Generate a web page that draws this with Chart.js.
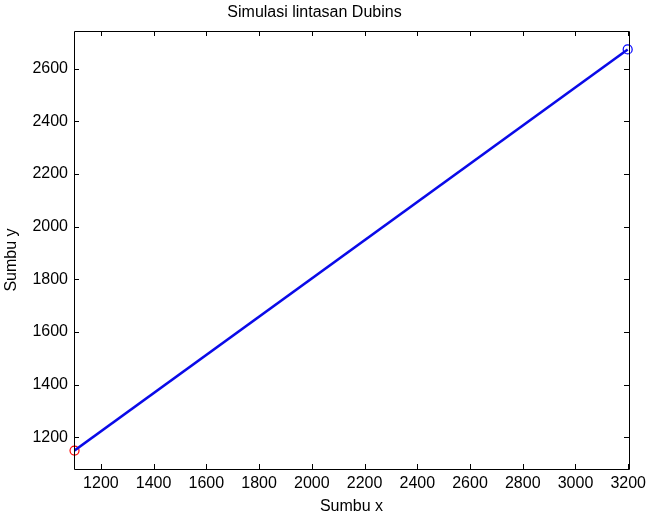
<!DOCTYPE html>
<html>
<head>
<meta charset="utf-8">
<script src="https://cdn.jsdelivr.net/npm/chart.js@4/dist/chart.umd.min.js"></script>
<style>
  html, body { margin: 0; padding: 0; background: #ffffff; }
  #wrap { width: 646px; height: 516px; }
</style>
</head>
<body>
<div id="wrap"><canvas id="c" width="646" height="516"></canvas></div>
<script>
// Path of the Dubins simulation: start and end of the straight segment
const pathX = [1100, 3198];
const pathY = [1150, 2673];
// Start point (red) and goal point (blue)
const startPoint = [1100, 1150];
const goalPoint = [3198, 2673];

// Axis ranges and tick values
const xRange = [1098, 3203];
const yRange = [1080, 2743];
const xTicks = [1200, 1400, 1600, 1800, 2000, 2200, 2400, 2600, 2800, 3000, 3200];
const yTicks = [1200, 1400, 1600, 1800, 2000, 2200, 2400, 2600];

const FONT = "'Liberation Sans', Arial, sans-serif";
const FSIZE = 16;

const pathData = pathX.map((x, i) => ({ x: x, y: pathY[i] }));

// Box around the axes with inward tick marks on all four sides,
// plus the vertical axis caption
const boxTicks = {
  id: 'boxTicks',
  afterDatasetsDraw(chart) {
    const { ctx, chartArea: a, scales } = chart;
    const len = 5;
    ctx.save();
    ctx.strokeStyle = '#000000';
    ctx.lineWidth = 1;
    ctx.beginPath();
    ctx.rect(Math.round(a.left) + 0.5, Math.round(a.top) + 0.5,
             Math.round(a.right - a.left), Math.round(a.bottom - a.top));
    xTicks.forEach(v => {
      const px = Math.round(scales.x.getPixelForValue(v)) + 0.5;
      ctx.moveTo(px, a.bottom); ctx.lineTo(px, a.bottom - len);
      ctx.moveTo(px, a.top); ctx.lineTo(px, a.top + len);
    });
    yTicks.forEach(v => {
      const py = Math.round(scales.y.getPixelForValue(v)) + 0.5;
      ctx.moveTo(a.left, py); ctx.lineTo(a.left + len, py);
      ctx.moveTo(a.right, py); ctx.lineTo(a.right - len, py);
    });
    ctx.stroke();

    ctx.fillStyle = '#000000';
    ctx.font = FSIZE + 'px ' + FONT;
    ctx.textAlign = 'center';
    ctx.textBaseline = 'middle';
    ctx.translate(12, (a.top + a.bottom) / 2 + 10);
    ctx.rotate(-Math.PI / 2);
    ctx.fillText('Sumbu y', 0, 0);
    ctx.restore();
  }
};

new Chart(document.getElementById('c'), {
  type: 'line',
  data: {
    datasets: [
      {
        data: pathData,
        borderColor: '#0a0ae8',
        borderWidth: 2.6,
        pointRadius: 0,
        fill: false,
        tension: 0
      },
      {
        data: [{ x: startPoint[0], y: startPoint[1] }],
        showLine: false,
        clip: false,
        pointStyle: 'circle',
        pointRadius: 4.5,
        pointBorderWidth: 1.2,
        pointBorderColor: '#ff0000',
        pointBackgroundColor: 'rgba(0,0,0,0)'
      },
      {
        data: [{ x: goalPoint[0], y: goalPoint[1] }],
        showLine: false,
        clip: false,
        pointStyle: 'circle',
        pointRadius: 4.5,
        pointBorderWidth: 1.2,
        pointBorderColor: '#0000ff',
        pointBackgroundColor: 'rgba(0,0,0,0)'
      }
    ]
  },
  options: {
    responsive: false,
    animation: false,
    events: [],
    layout: { padding: { top: 0, right: 17, left: 0, bottom: 0 } },
    plugins: {
      legend: { display: false },
      tooltip: { enabled: false },
      title: {
        display: true,
        text: 'Simulasi lintasan Dubins',
        color: '#000000',
        font: { family: FONT, size: FSIZE, weight: 'normal', lineHeight: 1.2 },
        padding: { top: 3, bottom: 8.8 }
      }
    },
    scales: {
      x: {
        type: 'linear',
        min: xRange[0],
        max: xRange[1],
        grid: { display: false, drawTicks: false },
        border: { display: false },
        afterBuildTicks: s => { s.ticks = xTicks.map(v => ({ value: v })); },
        afterFit: s => { s.height = 47; s.paddingLeft = 0; s.paddingRight = 0; },
        ticks: {
          color: '#000000',
          font: { family: FONT, size: FSIZE },
          padding: 5,
          maxRotation: 0,
          autoSkip: false,
          callback: v => String(v)
        },
        title: {
          display: true,
          text: 'Sumbu x',
          color: '#000000',
          font: { family: FONT, size: FSIZE },
          padding: { top: 0, bottom: 0 }
        }
      },
      y: {
        type: 'linear',
        min: yRange[0],
        max: yRange[1],
        grid: { display: false, drawTicks: false },
        border: { display: false },
        afterBuildTicks: s => { s.ticks = yTicks.map(v => ({ value: v })); },
        afterFit: s => { s.width = 74; s.paddingTop = 0; s.paddingBottom = 0; },
        ticks: {
          color: '#000000',
          font: { family: FONT, size: FSIZE },
          padding: 6,
          autoSkip: false,
          callback: v => String(v)
        },
        title: { display: false }
      }
    }
  },
  plugins: [boxTicks]
});
</script>
</body>
</html>
